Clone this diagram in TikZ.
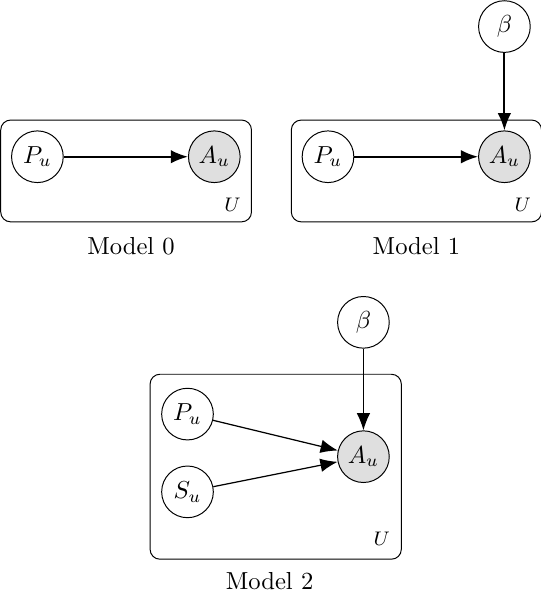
\documentclass[tikz,border=0pt]{standalone}
\usetikzlibrary{positioning,fit,arrows.meta}

\begin{document}
\begin{tikzpicture}[x=1pt, y=1pt,
    >={Latex[length=7pt,width=5.5pt]},
    latent/.style={circle, draw, minimum size=21pt, inner sep=1pt},
    obs/.style={latent, fill=gray!25},
    plate/.style={draw, rounded corners=4pt, inner sep=4.2pt},
    platelabel/.style={inner sep=0pt, font=\footnotesize},
    caption/.style={inner sep=0pt},
    link/.style={line width=0.8pt},
    thinlink/.style={line width=0.5pt}]

  \useasboundingbox (0,0) rectangle (219.5,-240.6);

  % Model 0
  \node[latent] (pu0) at (15.2,-63.7) {$P_u$};
  \node[obs] (au0) [right=50.5pt of pu0] {$A_u$} edge[link,<-] (pu0);
    \node[platelabel] (u0) [below right=5.7pt and 3.9pt of au0.south] {$U$};
  \node[plate, fit=(pu0) (au0) (u0)] (plate0) {};
  \node[caption] (cap0) [below=5.8pt of plate0, xshift=2pt] {Model 0};

  % Model 1
  \node[latent] (pu1) at (133.3,-63.7) {$P_u$};
  \node[obs] (au1) [right=50.3pt of pu1] {$A_u$} edge[link,<-] (pu1);
  \node[latent] (beta1) [above=31.5pt of au1] {$\beta$} edge[link,->] (au1);
    \node[platelabel] (u1) [below right=5.7pt and 3.9pt of au1.south] {$U$};
  \node[plate, fit=(pu1) (au1) (u1)] (plate1) {};
  \node[caption] (cap1) [below=5.8pt of plate1] {Model 1};

  % Model 2
  \node[latent] (pu2) at (76.2,-168.3) {$P_u$};
  \node[latent] (su2) [below=10.2pt of pu2] {$S_u$};
  \node[obs] (au2) at (147.7,-185.6) {$A_u$}
    edge[thinlink,<-] (pu2)
    edge[thinlink,<-] (su2);
  \node[latent] (beta2) [above=33.2pt of au2] {$\beta$} edge[thinlink,->] (au2);
    \node[platelabel] (u2) [below right=19.6pt and 3.9pt of au2.south] {$U$};
  \node[plate, inner xsep=4.5pt, inner ysep=5.5pt, fit=(pu2) (su2) (au2) (u2)] (plate2) {};
  \node[caption] (cap2) [below=4.9pt of plate2, xshift=-2.5pt] {Model 2};

\end{tikzpicture}
\end{document}
